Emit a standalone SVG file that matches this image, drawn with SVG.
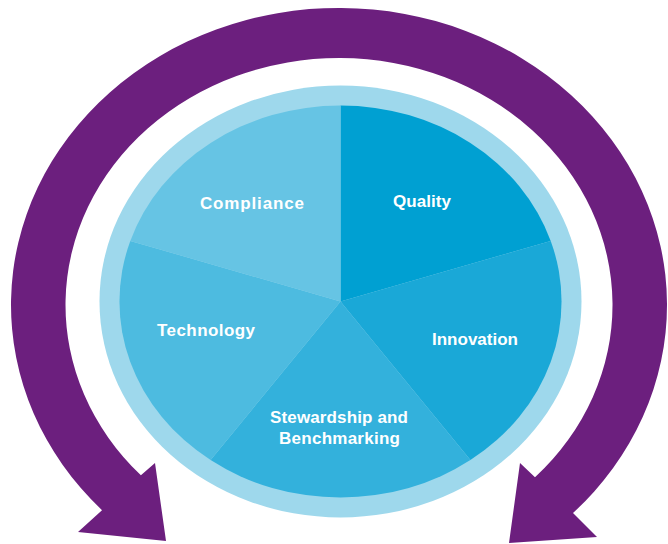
<svg xmlns="http://www.w3.org/2000/svg" width="668" height="544" viewBox="0 0 668 544">
<style>
.lbl{font-family:"Liberation Sans","DejaVu Sans",Arial,sans-serif;font-weight:bold;font-size:17px;fill:#ffffff;text-anchor:middle}
</style>
<rect width="668" height="544" fill="#ffffff"/>
<g id="cycle-arrow">
<path fill="#6c1f7e" d="M102,510.2 A328,297 0 1 1 573,513 L597,537 L509,543 L520,463 L535,477.3 A273.5,247 0 1 0 140.9,475.3 L155,463 L166,541 L78,532 Z"/>
</g>
<g id="ring">
<ellipse cx="340.5" cy="301.5" rx="241" ry="216" fill="#9ed8ec"/>
</g>
<g id="quality">
<path fill="#00a0d2" d="M340.5,301.5 L340.5,105.5 A221,196 0 0 1 550.7,240.9 Z"/>
<text class="lbl" x="422" y="207" textLength="58">Quality</text>
</g>
<g id="innovation">
<path fill="#1aa8d7" d="M340.5,301.5 L550.7,240.9 A221,196 0 0 1 470.4,460.1 Z"/>
<text class="lbl" x="475" y="345" textLength="86">Innovation</text>
</g>
<g id="stewardship">
<path fill="#33b1dc" d="M340.5,301.5 L470.4,460.1 A221,196 0 0 1 210.6,460.1 Z"/>
<text class="lbl" x="339" y="423" textLength="138">Stewardship and</text>
<text class="lbl" x="339.5" y="444" textLength="121">Benchmarking</text>
</g>
<g id="technology">
<path fill="#4dbbe0" d="M340.5,301.5 L210.6,460.1 A221,196 0 0 1 130.3,240.9 Z"/>
<text class="lbl" x="206" y="336" textLength="98">Technology</text>
</g>
<g id="compliance">
<path fill="#66c4e4" d="M340.5,301.5 L130.3,240.9 A221,196 0 0 1 340.5,105.5 Z"/>
<text class="lbl" x="252" y="209" textLength="104">Compliance</text>
</g>
</svg>
